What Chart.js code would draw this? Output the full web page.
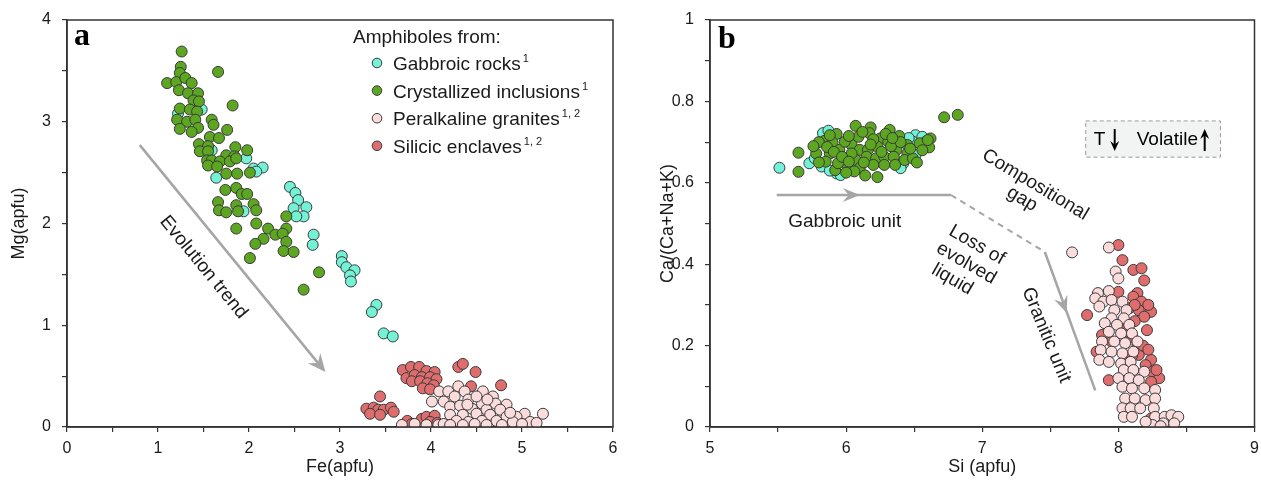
<!DOCTYPE html>
<html>
<head>
<meta charset="utf-8">
<script src="https://cdn.jsdelivr.net/npm/chart.js@4"></script>
<style>
  body { margin: 0; background: #fff; overflow: hidden; }
  .panel { position: absolute; top: 0; height: 480px; }
  #boxA { left: 0; width: 640px; }
  #boxB { left: 640px; width: 621px; }
</style>
</head>
<body>
<div class="panel" id="boxA"><canvas id="chartA"></canvas></div>
<div class="panel" id="boxB"><canvas id="chartB"></canvas></div>
<script>
// ---- panel a: Mg vs Fe (apfu) ----
const aGabbroic = [
  [1.22,3.08],[1.48,3.12],[1.59,2.72],[1.97,2.64],[2.05,2.54],[2.15,2.55],[2.08,2.51],[1.64,2.45],
  [1.94,2.12],[2.45,2.36],[2.51,2.30],[2.54,2.23],[2.49,2.15],[2.63,2.16],[2.60,2.07],[2.52,2.07],
  [2.71,1.89],[2.70,1.79],[3.02,1.68],[3.02,1.62],[3.07,1.57],[3.16,1.54],[3.11,1.49],[3.12,1.43],
  [3.40,1.20],[3.35,1.13],[3.48,0.92],[3.58,0.89]
];
const aInclusions = [
  [1.26,3.69],[1.66,3.49],[1.25,3.54],[1.24,3.48],[1.10,3.38],[1.20,3.39],[1.30,3.43],[1.37,3.38],
  [1.23,3.31],[1.33,3.28],[1.44,3.28],[1.39,3.21],[1.45,3.20],[1.24,3.13],[1.35,3.12],[1.43,3.10],
  [1.21,3.02],[1.32,3.00],[1.41,3.02],[1.44,2.94],[1.24,2.93],[1.37,2.90],[1.82,3.16],[1.59,3.02],
  [1.61,2.97],[1.76,2.92],[1.57,2.85],[1.67,2.84],[1.45,2.78],[1.55,2.76],[1.46,2.71],[1.55,2.71],
  [1.85,2.75],[1.98,2.72],[1.75,2.67],[1.84,2.66],[1.54,2.62],[1.59,2.62],[1.68,2.61],[1.79,2.61],
  [1.86,2.64],[1.55,2.57],[1.65,2.56],[1.75,2.49],[1.87,2.49],[2.01,2.50],[1.74,2.33],[1.86,2.35],
  [1.92,2.29],[1.98,2.29],[1.66,2.21],[2.05,2.19],[1.86,2.18],[1.67,2.13],[1.75,2.11],[1.88,2.12],
  [2.08,2.13],[2.41,2.07],[1.86,1.95],[2.08,2.00],[2.21,1.95],[2.41,1.95],[2.29,1.89],[2.37,1.90],
  [2.16,1.85],[2.07,1.80],[2.41,1.82],[2.38,1.73],[2.49,1.72],[2.01,1.66],[2.77,1.52],[2.60,1.35]
];
const aPeralkaline = [
  [3.68,0.02],[3.82,0.03],[3.95,0.02],[4.08,0.02],[4.14,0.03],[4.09,0.35],[4.19,0.35],[4.30,0.40],
  [4.37,0.35],[4.57,0.35],[4.68,0.30],[4.01,0.25],[4.14,0.25],[4.26,0.30],[4.41,0.27],[4.56,0.23],
  [4.71,0.23],[4.83,0.22],[4.21,0.20],[4.32,0.21],[4.45,0.18],[4.61,0.17],[4.76,0.17],[5.03,0.13],
  [5.23,0.13],[4.21,0.12],[4.35,0.12],[4.50,0.13],[4.65,0.12],[4.83,0.10],[4.94,0.10],[4.28,0.06],
  [4.41,0.05],[4.56,0.06],[4.72,0.06],[4.90,0.05],[5.09,0.05],[4.48,0.03],[4.61,0.02],[4.78,0.02],
  [5.00,0.03],[4.21,0.02],[4.35,0.02],[5.16,0.04],[4.50,0.30],[4.62,0.27],[4.40,0.22],[4.87,0.14]
];
const aEnclaves = [
  [3.69,0.56],[3.78,0.59],[3.87,0.59],[3.95,0.55],[4.04,0.54],[3.73,0.48],[3.82,0.51],[3.90,0.49],
  [3.99,0.49],[4.06,0.47],[3.79,0.45],[3.88,0.45],[3.96,0.43],[4.03,0.41],[3.91,0.38],[3.99,0.37],
  [4.30,0.59],[4.35,0.62],[4.49,0.54],[4.44,0.40],[4.77,0.41],[4.52,0.30],[3.44,0.30],[3.29,0.18],
  [3.37,0.19],[3.42,0.17],[3.48,0.17],[3.56,0.19],[3.33,0.13],[3.44,0.12],[3.59,0.15],[3.74,0.06],
  [3.79,0.03],[3.90,0.08],[3.95,0.10],[4.04,0.11],[3.99,0.05],[4.07,0.04]
];

// ---- panel b: Ca/(Ca+Na+K) vs Si (apfu) ----
const bGabbroic = [
  [5.51,0.637],[5.73,0.648],[5.83,0.722],[5.87,0.728],[5.82,0.640],[5.93,0.623],[5.96,0.619],
  [6.51,0.717],[6.56,0.713],[6.49,0.701],[6.51,0.668],[6.42,0.648],[5.88,0.630],[5.77,0.660],
  [6.46,0.710],[6.58,0.700],[6.40,0.636]
];
const bInclusions = [
  [5.65,0.674],[5.65,0.627],[6.72,0.761],[6.82,0.767],[6.07,0.740],[6.18,0.736],[6.32,0.730],
  [5.93,0.720],[5.84,0.703],[5.90,0.699],[6.09,0.713],[6.17,0.722],[6.25,0.709],[6.39,0.715],
  [6.62,0.709],[6.54,0.697],[6.45,0.693],[6.61,0.687],[5.78,0.672],[5.88,0.672],[5.95,0.681],
  [6.04,0.693],[6.10,0.681],[6.16,0.681],[6.23,0.689],[6.31,0.701],[6.37,0.681],[6.45,0.672],
  [5.85,0.652],[5.98,0.660],[6.07,0.656],[6.15,0.664],[6.22,0.660],[6.28,0.664],[6.35,0.664],
  [6.43,0.656],[6.49,0.660],[5.92,0.631],[6.01,0.640],[6.10,0.636],[6.20,0.644],[6.28,0.644],
  [6.36,0.644],[6.23,0.614],[6.04,0.672],[5.99,0.701],[6.20,0.707],[5.94,0.648],
  [5.80,0.700],[5.86,0.688],[5.91,0.676],[5.97,0.664],[6.02,0.652],[6.06,0.628],[6.13,0.650],
  [6.18,0.694],[6.26,0.676],[6.33,0.690],[6.40,0.700],[6.47,0.684],[6.56,0.680],[6.60,0.705],
  [6.29,0.720],[6.12,0.725],[6.02,0.715],[5.88,0.717],[5.76,0.690],[6.52,0.650],[6.00,0.625],
  [6.14,0.618],[5.80,0.650],[6.34,0.710]
];
const bPeralkaline = [
  [7.66,0.429],[7.93,0.441],[7.98,0.382],[8.00,0.365],[7.85,0.329],[7.93,0.334],[7.83,0.316],
  [7.89,0.308],[7.95,0.312],[8.03,0.308],[7.86,0.296],[7.97,0.287],[8.06,0.287],[7.95,0.267],
  [8.04,0.267],[7.90,0.255],[7.99,0.251],[8.08,0.251],[7.93,0.234],[8.02,0.230],[8.10,0.230],
  [7.88,0.210],[7.97,0.210],[8.05,0.206],[8.14,0.210],[7.87,0.189],[7.95,0.185],[8.03,0.181],
  [8.11,0.185],[7.86,0.165],[7.93,0.160],[8.02,0.156],[8.09,0.160],[8.04,0.140],[8.11,0.140],
  [8.19,0.136],[8.00,0.120],[8.08,0.120],[8.15,0.115],[8.03,0.099],[8.10,0.095],[8.19,0.095],
  [8.27,0.091],[8.05,0.070],[8.12,0.070],[8.20,0.066],[8.27,0.070],[8.03,0.046],[8.09,0.046],
  [8.16,0.046],[8.26,0.046],[8.04,0.025],[8.10,0.025],[8.27,0.025],[8.34,0.025],[8.39,0.029],
  [8.44,0.025],[8.25,0.005],[8.33,0.009],[8.41,0.009],[8.20,0.013],[8.31,0.002]
];
const bEnclaves = [
  [8.00,0.447],[8.03,0.410],[8.11,0.386],[8.17,0.390],[8.00,0.332],[8.14,0.329],[8.11,0.320],
  [8.17,0.308],[8.08,0.292],[8.15,0.287],[8.24,0.283],[8.19,0.271],[7.77,0.275],[8.21,0.238],
  [7.88,0.226],[8.10,0.222],[8.14,0.201],[7.84,0.185],[8.15,0.177],[8.24,0.165],[8.20,0.152],
  [8.25,0.136],[8.30,0.120],[7.93,0.115],[8.24,0.111],[8.24,0.021],[8.30,0.013],[8.05,0.165],
  [8.19,0.360],[8.22,0.300],[8.12,0.260],[8.18,0.200],[8.22,0.190],[8.28,0.140],[8.12,0.300],
  [8.05,0.240],[7.95,0.210],[8.10,0.175]
];

const legendItems = [
  ['Gabbroic rocks', '1'],
  ['Crystallized inclusions', '1'],
  ['Peralkaline granites', '1, 2'],
  ['Silicic enclaves', '1, 2']
];
const colors = ['#74f2d6', '#5ca621', '#fbdcdc', '#e06d6d'];

const FONT = '"Liberation Sans", Arial, sans-serif';
const INK = '#1a1a1a';
const TREND = '#a5a5a5';

const toPts = arr => arr.map(([x, y]) => ({ x, y }));

const scatterSet = (label, pts, color, order) => ({
  label,
  data: toPts(pts),
  backgroundColor: color,
  borderColor: '#3a3a3a',
  borderWidth: 1,
  pointRadius: 5.5,
  pointHoverRadius: 5.5,
  order
});

const axis = (min, max, step, labelFn, fit, pad) => ({
  type: 'linear',
  min, max,
  afterFit: fit,
  ticks: {
    stepSize: step,
    autoSkip: false,
    maxRotation: 0,
    color: INK,
    padding: pad,
    font: { family: FONT, size: 16 },
    callback: labelFn
  },
  grid: { drawOnChartArea: false, tickLength: 5, color: '#333', lineWidth: 1.2 },
  border: { color: '#333', width: 1.5 }
});

// fixed axis boxes so the plot frames land where the figure has them
const fixHeight = h => s => { s.height = h; s.paddingLeft = 0; s.paddingRight = 0; };
const fixWidth = w => s => { s.width = w; s.paddingTop = 0; s.paddingBottom = 0; };

// helpers for annotation drawing
const px = (chart, x, y) => [chart.scales.x.getPixelForValue(x), chart.scales.y.getPixelForValue(y)];

function arrowHead(ctx, x, y, ang, len, half) {
  ctx.save();
  ctx.translate(x, y);
  ctx.rotate(ang);
  ctx.beginPath();
  ctx.moveTo(0, 0);
  ctx.lineTo(-len, -half);
  ctx.lineTo(-len * 0.65, 0);
  ctx.lineTo(-len, half);
  ctx.closePath();
  ctx.fill();
  ctx.restore();
}

function rotText(ctx, lines, x, y, deg, lineH, shift) {
  ctx.save();
  ctx.translate(x, y);
  ctx.rotate(deg * Math.PI / 180);
  ctx.textAlign = 'center';
  ctx.textBaseline = 'middle';
  lines.forEach((t, i) => ctx.fillText(t, (shift ? shift[i] : 0), i * lineH));
  ctx.restore();
}

function frameAndTitles(ctx, area, xTitle, yTitle, yTitleX) {
  ctx.save();
  ctx.strokeStyle = '#333';
  ctx.lineWidth = 1.5;
  ctx.strokeRect(area.left, area.top, area.right - area.left, area.bottom - area.top);
  ctx.fillStyle = INK;
  ctx.font = '18px ' + FONT;
  ctx.textAlign = 'center';
  ctx.textBaseline = 'middle';
  ctx.fillText(xTitle, (area.left + area.right) / 2, 467);
  ctx.translate(yTitleX, (area.top + area.bottom) / 2);
  ctx.rotate(-Math.PI / 2);
  ctx.fillText(yTitle, 0, 0);
  ctx.restore();
}

const decorA = {
  id: 'decorA',
  afterDraw(chart) {
    const ctx = chart.ctx, area = chart.chartArea;
    frameAndTitles(ctx, area, 'Fe(apfu)', 'Mg(apfu)', 19);
    ctx.save();
    // panel letter
    ctx.fillStyle = '#000';
    ctx.font = 'bold 32px "Liberation Serif", "Times New Roman", serif';
    ctx.textBaseline = 'alphabetic';
    ctx.fillText('a', area.left + 7, 45);

    // legend
    ctx.fillStyle = INK;
    ctx.font = '19px ' + FONT;
    ctx.fillText('Amphiboles from:', 353, 43);
    legendItems.forEach(([name, sup], i) => {
      const cy = 63 + i * 27.6;
      ctx.beginPath();
      ctx.arc(377, cy, 4.8, 0, Math.PI * 2);
      ctx.fillStyle = colors[i];
      ctx.fill();
      ctx.lineWidth = 1;
      ctx.strokeStyle = '#3a3a3a';
      ctx.stroke();
      ctx.fillStyle = INK;
      ctx.font = '19px ' + FONT;
      ctx.fillText(name, 393, cy + 7);
      const w = ctx.measureText(name).width;
      ctx.font = '11px ' + FONT;
      ctx.fillText(sup, 393 + w + 2, cy - 1);
    });

    // evolution trend arrow
    const [x0, y0] = px(chart, 0.80, 2.77);
    const [x1, y1] = px(chart, 2.84, 0.54);
    const ang = Math.atan2(y1 - y0, x1 - x0);
    ctx.strokeStyle = TREND;
    ctx.fillStyle = TREND;
    ctx.lineWidth = 2.5;
    ctx.beginPath();
    ctx.moveTo(x0, y0);
    ctx.lineTo(x1 - 8 * Math.cos(ang), y1 - 8 * Math.sin(ang));
    ctx.stroke();
    arrowHead(ctx, x1, y1, ang, 18, 8);

    ctx.fillStyle = INK;
    ctx.font = '19px ' + FONT;
    const [tx, ty] = px(chart, 1.5, 1.57);
    rotText(ctx, ['Evolution trend'], tx, ty, ang * 180 / Math.PI, 0);
    ctx.restore();
  }
};

const decorB = {
  id: 'decorB',
  afterDraw(chart) {
    const ctx = chart.ctx, area = chart.chartArea;
    frameAndTitles(ctx, area, 'Si (apfu)', 'Ca/(Ca+Na+K)', 28);
    ctx.save();
    ctx.fillStyle = '#000';
    ctx.font = 'bold 32px "Liberation Serif", "Times New Roman", serif';
    ctx.fillText('b', area.left + 8, 48);

    // gabbroic unit -> gap -> granitic unit path
    const [g0x, g0y] = px(chart, 5.49, 0.57);
    const [g1x, g1y] = px(chart, 6.77, 0.57);
    const [d1x, d1y] = px(chart, 7.46, 0.43);
    const [e1x, e1y] = px(chart, 7.83, 0.09);
    ctx.strokeStyle = TREND;
    ctx.fillStyle = TREND;
    ctx.lineWidth = 2.5;
    ctx.beginPath();
    ctx.moveTo(g0x, g0y);
    ctx.lineTo(g1x, g1y);
    ctx.stroke();
    const [hx] = px(chart, 6.10, 0.57);
    arrowHead(ctx, hx, g0y, 0, 17, 7);

    ctx.setLineDash([6, 5]);
    ctx.lineWidth = 2;
    ctx.beginPath();
    ctx.moveTo(g1x, g1y);
    ctx.lineTo(d1x, d1y);
    ctx.stroke();
    ctx.setLineDash([]);

    ctx.lineWidth = 2.5;
    ctx.beginPath();
    ctx.moveTo(d1x, d1y);
    ctx.lineTo(e1x, e1y);
    ctx.stroke();
    const gAng = Math.atan2(e1y - d1y, e1x - d1x);
    const [mx, my] = px(chart, 7.62, 0.28);
    arrowHead(ctx, mx, my, gAng, 17, 7);

    // labels
    ctx.fillStyle = INK;
    ctx.font = '19px ' + FONT;
    ctx.textAlign = 'center';
    ctx.textBaseline = 'middle';
    const [ux, uy] = px(chart, 5.99, 0.504);
    ctx.fillText('Gabbroic unit', ux, uy);

    const [cx, cy] = px(chart, 7.39, 0.595);
    rotText(ctx, ['Compositional', 'gap'], cx, cy, 31, 19, [0, -4]);
    const [lx, ly] = px(chart, 6.96, 0.447);
    rotText(ctx, ['Loss of', 'evolved', 'liquid'], lx, ly, 30, 21, [0, 0, -4]);
    const [rx, ry] = px(chart, 7.47, 0.226);
    rotText(ctx, ['Granitic unit'], rx, ry, 67.5, 0);

    // T / volatile box
    const [bx0, by0] = px(chart, 7.76, 0.752);
    const [bx1, by1] = px(chart, 8.75, 0.663);
    ctx.fillStyle = '#f2f4f4';
    ctx.fillRect(bx0, by0, bx1 - bx0, by1 - by0);
    ctx.strokeStyle = '#9a9a9a';
    ctx.lineWidth = 1;
    ctx.setLineDash([4, 3]);
    ctx.strokeRect(bx0, by0, bx1 - bx0, by1 - by0);
    ctx.setLineDash([]);
    const mid = (by0 + by1) / 2;
    ctx.fillStyle = '#000';
    ctx.textAlign = 'left';
    ctx.font = '19px ' + FONT;
    ctx.fillText('T', bx0 + 8, mid + 1);
    ctx.fillText('Volatile', bx0 + 51, mid + 1);
    ctx.strokeStyle = '#000';
    ctx.lineWidth = 2;
    // down arrow after T
    ctx.beginPath();
    ctx.moveTo(bx0 + 29, mid - 10);
    ctx.lineTo(bx0 + 29, mid + 6);
    ctx.stroke();
    arrowHead(ctx, bx0 + 29, mid + 12, Math.PI / 2, 10, 4.5);
    // up arrow after Volatile
    ctx.beginPath();
    ctx.moveTo(bx0 + 119, mid + 12);
    ctx.lineTo(bx0 + 119, mid - 4);
    ctx.stroke();
    arrowHead(ctx, bx0 + 119, mid - 10, -Math.PI / 2, 10, 4.5);
    ctx.restore();
  }
};

const intLabel = v => Number.isInteger(v) ? v : '';
const fifthLabel = v => {
  const t = Math.round(v * 10);
  return t % 2 === 0 ? String(t / 10) : '';
};

const baseOptions = (padRight, xAxis, yAxis) => ({
  animation: false,
  responsive: true,
  maintainAspectRatio: false,
  layout: { padding: { top: 20, right: padRight, left: 0, bottom: 0 } },
  plugins: { legend: { display: false }, tooltip: { enabled: false } },
  scales: { x: xAxis, y: yAxis }
});

new Chart(document.getElementById('chartA'), {
  type: 'scatter',
  data: {
    datasets: [
      scatterSet(legendItems[0][0], aGabbroic, colors[0], 3),
      scatterSet(legendItems[1][0], aInclusions, colors[1], 1),
      scatterSet(legendItems[2][0], aPeralkaline, colors[2], 2),
      scatterSet(legendItems[3][0], aEnclaves, colors[3], 4)
    ]
  },
  options: baseOptions(27,
    axis(0, 6, 0.5, intLabel, fixHeight(53), 7),
    axis(0, 4, 0.5, intLabel, fixWidth(67), 11)),
  plugins: [decorA]
});

new Chart(document.getElementById('chartB'), {
  type: 'scatter',
  data: {
    datasets: [
      scatterSet(legendItems[0][0], bGabbroic, colors[0], 3),
      scatterSet(legendItems[1][0], bInclusions, colors[1], 1),
      scatterSet(legendItems[2][0], bPeralkaline, colors[2], 2),
      scatterSet(legendItems[3][0], bEnclaves, colors[3], 4)
    ]
  },
  options: baseOptions(5,
    axis(5, 9, 0.5, intLabel, fixHeight(53), 7),
    axis(0, 1, 0.1, fifthLabel, fixWidth(70), 11)),
  plugins: [decorB]
});
</script>
</body>
</html>
